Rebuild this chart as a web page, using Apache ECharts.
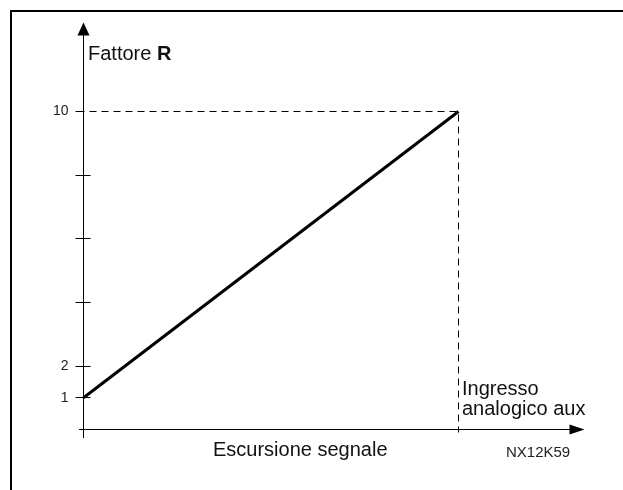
<!DOCTYPE html>
<html>
<head>
<meta charset="utf-8">
<script src="https://cdn.jsdelivr.net/npm/echarts@6/dist/echarts.min.js"></script>
<style>
  html, body { margin: 0; padding: 0; background: #fff; }
  #chart { width: 623px; height: 490px; }
</style>
</head>
<body>
<div id="chart"></div>
<script>
// Signal excursion (percent of the aux analog input range) versus R factor
const signalPct = [0, 100];
const factorR = [1, 10];

// Y ticks: labelled values and unlabelled marks
const yLabelValues = [1, 2, 10];
const yTickOutside = [1, 2, 4, 6, 8, 10];
const yTickInside = [1, 2, 4, 6, 8];

// Axis extents (the ends carry the arrow heads)
const xMin = -1.0667, xMax = 131.6;
const yMin = -0.2516, yMax = 12.594;

// Dashed guide: top of the range and end of the signal excursion
const guideX = [0, 100, 100];
const guideY = [10, 10, -0.094];

const textFont = '"Liberation Sans", Arial, sans-serif';

const chart = echarts.init(document.getElementById('chart'), null, { renderer: 'canvas' });

const rampData = signalPct.map((x, i) => [x, factorR[i]]);
const guideData = guideX.map((x, i) => [x, guideY[i]]);

chart.setOption({
  animation: false,
  backgroundColor: '#ffffff',
  title: [
    {
      text: 'Fattore {b|R}',
      left: 88, top: 44, padding: 0,
      textStyle: {
        fontFamily: textFont, fontSize: 20, fontWeight: 'normal', color: '#111',
        rich: { b: { fontFamily: textFont, fontSize: 20, fontWeight: 'bold', color: '#111' } }
      }
    },
    {
      text: 'Ingresso\nanalogico aux',
      left: 462, top: 379, padding: 0,
      textStyle: { fontFamily: textFont, fontSize: 20, fontWeight: 'normal', color: '#111', lineHeight: 20 }
    },
    {
      text: 'Escursione segnale',
      left: 213, top: 440, padding: 0,
      textStyle: { fontFamily: textFont, fontSize: 20, fontWeight: 'normal', color: '#111' }
    },
    {
      text: 'NX12K59',
      left: 506, top: 445, padding: 0,
      textStyle: { fontFamily: textFont, fontSize: 15, fontWeight: 'normal', color: '#222' }
    }
  ],
  graphic: [
    {
      type: 'polyline',
      shape: { points: [[11, 492], [11, 11], [630, 11]] },
      style: { stroke: '#000', lineWidth: 2, fill: null },
      silent: true
    }
  ],
  grid: { left: 79.5, right: 46, top: 29, bottom: 52.5, containLabel: false },
  xAxis: {
    type: 'value',
    min: xMin, max: xMax,
    axisLine: {
      show: true, onZero: true,
      symbol: ['none', 'triangle'], symbolSize: [10, 15],
      lineStyle: { color: '#000', width: 1 }
    },
    axisTick: { show: false },
    axisLabel: { show: false },
    splitLine: { show: false }
  },
  yAxis: [
    {
      type: 'value',
      position: 'left',
      min: yMin, max: yMax,
      axisLine: {
        show: true, onZero: true, onZeroAxisIndex: 0,
        symbol: ['none', 'triangle'], symbolSize: [12, 13],
        lineStyle: { color: '#000', width: 1 }
      },
      axisTick: {
        show: true, inside: false, length: 8,
        customValues: yTickOutside,
        lineStyle: { color: '#000', width: 1 }
      },
      axisLabel: {
        show: true, margin: 11,
        customValues: yLabelValues,
        fontFamily: textFont, fontSize: 14, color: '#222'
      },
      splitLine: { show: false }
    },
    {
      type: 'value',
      position: 'left',
      min: yMin, max: yMax,
      axisLine: {
        show: true, onZero: true, onZeroAxisIndex: 0,
        lineStyle: { color: '#000', width: 1 }
      },
      axisTick: {
        show: true, inside: true, length: 7,
        customValues: yTickInside,
        lineStyle: { color: '#000', width: 1 }
      },
      axisLabel: { show: false },
      splitLine: { show: false }
    }
  ],
  series: [
    {
      name: 'guida',
      type: 'line',
      data: guideData,
      showSymbol: false,
      symbol: 'none',
      clip: false,
      lineStyle: { color: '#000', width: 1, type: [7, 5], dashOffset: 6 },
      z: 2
    },
    {
      name: 'Fattore R',
      type: 'line',
      data: rampData,
      showSymbol: false,
      symbol: 'none',
      clip: false,
      lineStyle: { color: '#000', width: 3 },
      z: 3
    }
  ]
});
</script>
</body>
</html>
